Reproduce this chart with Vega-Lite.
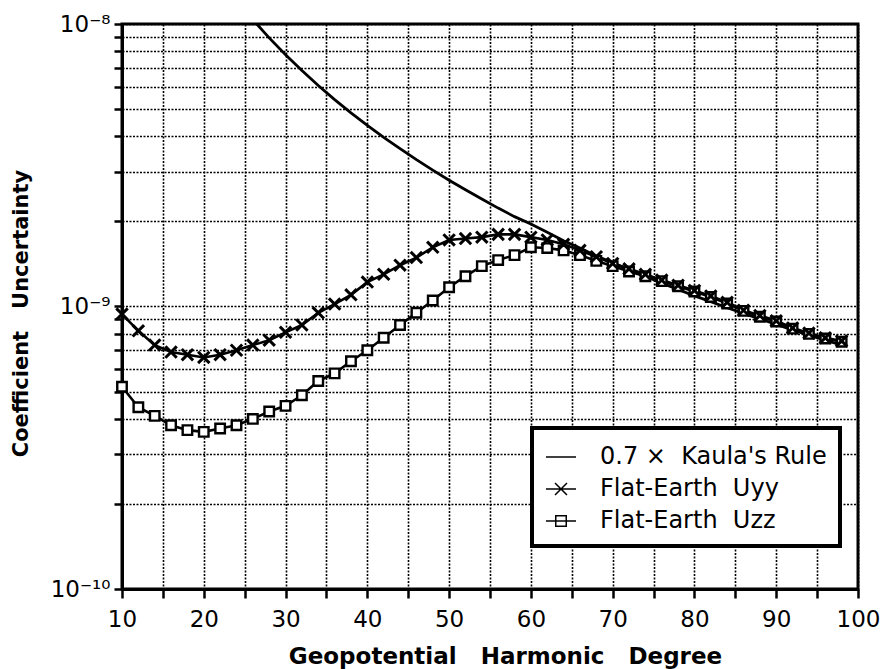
{
  "$schema": "https://vega.github.io/schema/vega-lite/v6.json",
  "width": 736,
  "height": 565,
  "autosize": {"type": "none"},
  "padding": {"left": 122, "top": 24, "right": 25, "bottom": 80},
  "background": "white",
  "config": {
    "font": "DejaVu Sans",
    "view": {"stroke": "black", "strokeWidth": 3},
    "legend": {"strokeColor": "black", "strokeWidth": 4, "fillColor": "white"}
  },
  "datasets": {
    "k": [
      {"deg": 24, "v": 1.215e-8}, {"deg": 26, "v": 1.036e-8}, {"deg": 28, "v": 8.93e-9}, {"deg": 30, "v": 7.78e-9},
      {"deg": 32, "v": 6.84e-9}, {"deg": 34, "v": 6.06e-9}, {"deg": 36, "v": 5.40e-9}, {"deg": 38, "v": 4.85e-9},
      {"deg": 40, "v": 4.38e-9}, {"deg": 42, "v": 3.97e-9}, {"deg": 44, "v": 3.62e-9}, {"deg": 46, "v": 3.31e-9},
      {"deg": 48, "v": 3.04e-9}, {"deg": 50, "v": 2.80e-9}, {"deg": 52, "v": 2.59e-9}, {"deg": 54, "v": 2.40e-9},
      {"deg": 56, "v": 2.23e-9}, {"deg": 58, "v": 2.08e-9}, {"deg": 60, "v": 1.96e-9}, {"deg": 62, "v": 1.83e-9},
      {"deg": 64, "v": 1.71e-9}, {"deg": 66, "v": 1.61e-9}, {"deg": 68, "v": 1.51e-9}, {"deg": 70, "v": 1.43e-9},
      {"deg": 72, "v": 1.35e-9}, {"deg": 74, "v": 1.28e-9}, {"deg": 76, "v": 1.21e-9}, {"deg": 78, "v": 1.15e-9},
      {"deg": 80, "v": 1.09e-9}, {"deg": 82, "v": 1.04e-9}, {"deg": 84, "v": 9.9e-10}, {"deg": 86, "v": 9.46e-10},
      {"deg": 88, "v": 9.04e-10}, {"deg": 90, "v": 8.64e-10}, {"deg": 92, "v": 8.27e-10}, {"deg": 94, "v": 7.92e-10},
      {"deg": 96, "v": 7.6e-10}, {"deg": 98, "v": 7.29e-10}
    ],
    "yy": [
      {"deg": 10, "v": 9.4e-10}, {"deg": 12, "v": 8.2e-10}, {"deg": 14, "v": 7.3e-10}, {"deg": 16, "v": 6.9e-10},
      {"deg": 18, "v": 6.75e-10}, {"deg": 20, "v": 6.6e-10}, {"deg": 22, "v": 6.75e-10}, {"deg": 24, "v": 7.0e-10},
      {"deg": 26, "v": 7.3e-10}, {"deg": 28, "v": 7.6e-10}, {"deg": 30, "v": 8.1e-10}, {"deg": 32, "v": 8.6e-10},
      {"deg": 34, "v": 9.5e-10}, {"deg": 36, "v": 1.02e-9}, {"deg": 38, "v": 1.10e-9}, {"deg": 40, "v": 1.22e-9},
      {"deg": 42, "v": 1.30e-9}, {"deg": 44, "v": 1.40e-9}, {"deg": 46, "v": 1.49e-9}, {"deg": 48, "v": 1.62e-9},
      {"deg": 50, "v": 1.72e-9}, {"deg": 52, "v": 1.74e-9}, {"deg": 54, "v": 1.76e-9}, {"deg": 56, "v": 1.80e-9},
      {"deg": 58, "v": 1.80e-9}, {"deg": 60, "v": 1.76e-9}, {"deg": 62, "v": 1.72e-9}, {"deg": 64, "v": 1.66e-9},
      {"deg": 66, "v": 1.58e-9}, {"deg": 68, "v": 1.50e-9}, {"deg": 70, "v": 1.42e-9}, {"deg": 72, "v": 1.36e-9},
      {"deg": 74, "v": 1.30e-9}, {"deg": 76, "v": 1.24e-9}, {"deg": 78, "v": 1.19e-9}, {"deg": 80, "v": 1.14e-9},
      {"deg": 82, "v": 1.09e-9}, {"deg": 84, "v": 1.035e-9}, {"deg": 86, "v": 9.7e-10}, {"deg": 88, "v": 9.3e-10},
      {"deg": 90, "v": 8.9e-10}, {"deg": 92, "v": 8.4e-10}, {"deg": 94, "v": 8.05e-10}, {"deg": 96, "v": 7.75e-10},
      {"deg": 98, "v": 7.55e-10}
    ],
    "zz": [
      {"deg": 10, "v": 5.2e-10}, {"deg": 12, "v": 4.4e-10}, {"deg": 14, "v": 4.1e-10}, {"deg": 16, "v": 3.8e-10},
      {"deg": 18, "v": 3.65e-10}, {"deg": 20, "v": 3.6e-10}, {"deg": 22, "v": 3.7e-10}, {"deg": 24, "v": 3.8e-10},
      {"deg": 26, "v": 4.0e-10}, {"deg": 28, "v": 4.25e-10}, {"deg": 30, "v": 4.45e-10}, {"deg": 32, "v": 4.85e-10},
      {"deg": 34, "v": 5.45e-10}, {"deg": 36, "v": 5.8e-10}, {"deg": 38, "v": 6.4e-10}, {"deg": 40, "v": 7.0e-10},
      {"deg": 42, "v": 7.75e-10}, {"deg": 44, "v": 8.6e-10}, {"deg": 46, "v": 9.5e-10}, {"deg": 48, "v": 1.05e-9},
      {"deg": 50, "v": 1.17e-9}, {"deg": 52, "v": 1.28e-9}, {"deg": 54, "v": 1.39e-9}, {"deg": 56, "v": 1.46e-9},
      {"deg": 58, "v": 1.52e-9}, {"deg": 60, "v": 1.62e-9}, {"deg": 62, "v": 1.61e-9}, {"deg": 64, "v": 1.58e-9},
      {"deg": 66, "v": 1.52e-9}, {"deg": 68, "v": 1.45e-9}, {"deg": 70, "v": 1.39e-9}, {"deg": 72, "v": 1.33e-9},
      {"deg": 74, "v": 1.28e-9}, {"deg": 76, "v": 1.23e-9}, {"deg": 78, "v": 1.18e-9}, {"deg": 80, "v": 1.13e-9},
      {"deg": 82, "v": 1.08e-9}, {"deg": 84, "v": 1.025e-9}, {"deg": 86, "v": 9.65e-10}, {"deg": 88, "v": 9.2e-10},
      {"deg": 90, "v": 8.85e-10}, {"deg": 92, "v": 8.35e-10}, {"deg": 94, "v": 8.0e-10}, {"deg": 96, "v": 7.7e-10},
      {"deg": 98, "v": 7.5e-10}
    ],
    "names": [
      {"series": "0.7 ×\u00a0\u00a0Kaula's Rule"},
      {"series": "Flat-Earth\u00a0\u00a0Uyy"},
      {"series": "Flat-Earth\u00a0\u00a0Uzz"}
    ]
  },
  "encoding": {
    "x": {
      "field": "deg", "type": "quantitative",
      "scale": {"domain": [10, 100], "nice": false, "zero": false},
      "axis": {
        "values": [10, 15, 20, 25, 30, 35, 40, 45, 50, 55, 60, 65, 70, 75, 80, 85, 90, 95, 100],
        "labelExpr": "datum.value % 10 == 0 ? datum.label : ''",
        "labelFont": "DejaVu Sans", "labelFontSize": 23, "labelColor": "black",
        "labelPadding": 10, "labelFlush": false, "labelOverlap": false,
        "tickSize": 9, "tickWidth": 2.5, "tickColor": "black",
        "domain": true, "domainColor": "black", "domainWidth": 3,
        "grid": true, "gridColor": "black", "gridDash": [2, 1.5], "gridWidth": 1.6, "gridOpacity": 1,
        "title": "Geopotential\u00a0\u00a0\u00a0Harmonic\u00a0\u00a0\u00a0Degree",
        "titleFont": "DejaVu Sans", "titleFontWeight": "bold", "titleFontSize": 23, "titleColor": "black",
        "titleX": 383, "titleY": 74, "titleAlign": "center", "titleBaseline": "alphabetic"
      }
    },
    "y": {
      "field": "v", "type": "quantitative",
      "scale": {"type": "log", "domain": [1e-10, 1e-8], "nice": false},
      "axis": {
        "values": [1e-10, 2e-10, 3e-10, 4e-10, 5e-10, 6e-10, 7e-10, 8e-10, 9e-10, 1e-9, 2e-9, 3e-9, 4e-9, 5e-9, 6e-9, 7e-9, 8e-9, 9e-9, 1e-8],
        "labelExpr": "datum.value > 9.9e-9 ? '10⁻⁸' : (datum.value > 9.9e-10 && datum.value < 1.1e-9) ? '10⁻⁹' : datum.value < 1.1e-10 ? '10⁻¹⁰' : ''",
        "labelFont": "DejaVu Sans", "labelFontSize": 23, "labelColor": "black",
        "labelPadding": 4, "labelFlush": false, "labelOverlap": false,
        "tickSize": 8, "tickWidth": 2.5, "tickColor": "black",
        "domain": true, "domainColor": "black", "domainWidth": 3,
        "grid": true, "gridColor": "black", "gridDash": [2, 1.5], "gridWidth": 1.6, "gridOpacity": 1,
        "title": "Coefficient\u00a0\u00a0\u00a0Uncertainty",
        "titleFont": "DejaVu Sans", "titleFontWeight": "bold", "titleFontSize": 21, "titleColor": "black",
        "titleX": -101, "titleY": 289, "titleAngle": 270, "titleAlign": "center", "titleBaseline": "middle"
      }
    }
  },
  "layer": [
    {
      "data": {"name": "k"},
      "mark": {"type": "line", "color": "black", "strokeWidth": 2.8, "clip": true},
      "encoding": {}
    },
    {
      "data": {"name": "zz"},
      "mark": {"type": "line", "color": "black", "strokeWidth": 2.6},
      "encoding": {}
    },
    {
      "data": {"name": "yy"},
      "mark": {"type": "line", "color": "black", "strokeWidth": 2.6},
      "encoding": {}
    },
    {
      "data": {"name": "zz"},
      "mark": {"type": "point", "shape": "square", "filled": true, "fill": "white", "stroke": "black", "strokeWidth": 2.4, "size": 90, "opacity": 1}
    },
    {
      "data": {"name": "yy"},
      "mark": {"type": "point", "shape": "M-1,-1L1,1M-1,1L1,-1", "filled": false, "stroke": "black", "strokeWidth": 3, "size": 130, "opacity": 1}
    },
    {
      "data": {"name": "names"},
      "transform": [{"filter": "false"}],
      "mark": {"type": "point", "filled": false, "stroke": "black", "strokeWidth": 2.5, "opacity": 1},
      "encoding": {
        "x": {"datum": 50},
        "y": {"datum": 1e-9},
        "shape": {
          "field": "series", "type": "nominal",
          "scale": {
            "domain": ["0.7 ×\u00a0\u00a0Kaula's Rule", "Flat-Earth\u00a0\u00a0Uyy", "Flat-Earth\u00a0\u00a0Uzz"],
            "range": ["M-1,0H1", "M-1,0H1M-0.4,-0.4L0.4,0.4M-0.4,0.4L0.4,-0.4", "M-1,0H1M-0.35,-0.35H0.35V0.35H-0.35Z"]
          },
          "legend": {
            "orient": "none", "legendX": 410, "legendY": 404,
            "title": null, "padding": 13,
            "strokeColor": "black", "fillColor": "white",
            "labelFont": "DejaVu Sans", "labelFontSize": 24, "labelColor": "black", "labelLimit": 400,
            "labelOffset": 23, "rowPadding": 4,
            "symbolSize": 900,
            "encode": {
              "symbols": {
                "update": {
                  "stroke": {"value": "black"},
                  "strokeWidth": {"value": 2.6},
                  "fill": {"value": "white"},
                  "opacity": {"value": 1},
                  "strokeOpacity": {"value": 1}
                }
              }
            }
          }
        }
      }
    }
  ]
}
